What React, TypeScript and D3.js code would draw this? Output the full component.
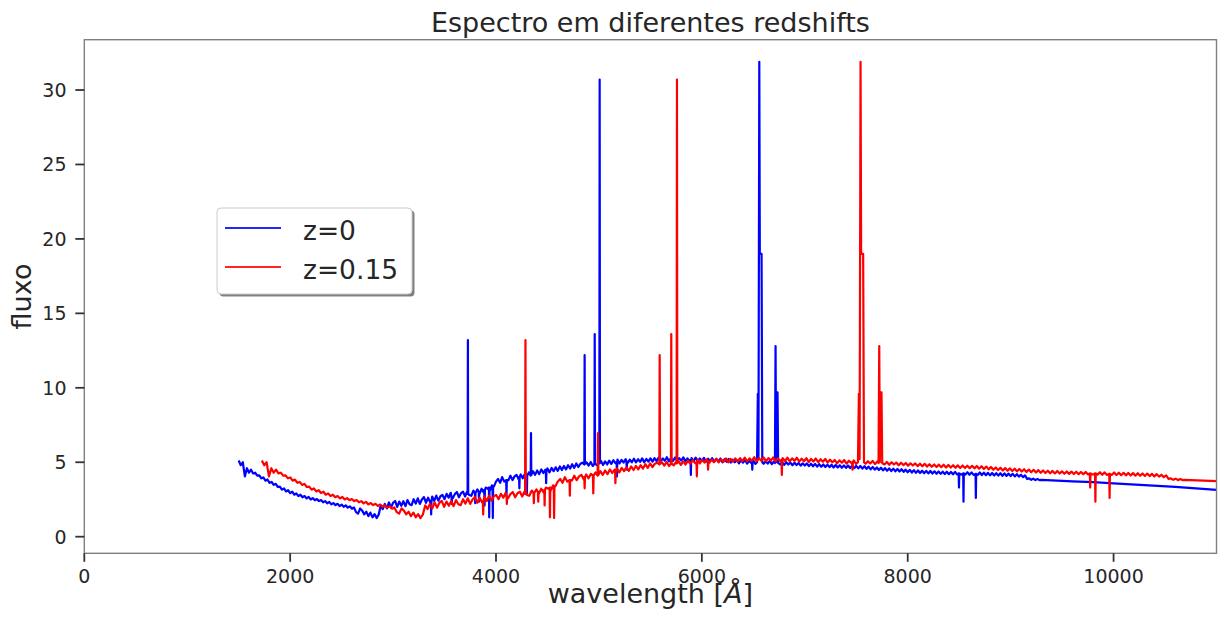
import React from 'react';
import * as d3 from 'd3';

const WIDTH = 1218;
const HEIGHT = 629;

const TITLE = 'Espectro em diferentes redshifts';
const X_LABEL = 'wavelength [';
const X_LABEL_UNIT = 'Å';
const Y_LABEL = 'fluxo';
const X_TICKS = [0, 2000, 4000, 6000, 8000, 10000];
const Y_TICKS = [0, 5, 10, 15, 20, 25, 30];
const X_DOMAIN = [0, 11000];
const Y_DOMAIN = [-1.115, 33.38];

const REDSHIFTS = [0, 0.15];
const SERIES_LABELS = ['z=0', 'z=0.15'];
const SERIES_COLORS = ['#0000ff', '#ff0000'];

// rest-frame continuum, sampled every 20 Å from 1500 Å to 9300 Å
const GRID_START = 1500;
const GRID_STEP = 20;
const CONTINUUM_FLUX = [
  5.12, 4.8, 5.0, 4.05, 4.6, 4.3, 4.5, 4.25, 4.3, 4.1, 4.12, 3.92, 3.98, 3.76, 3.84, 3.62, 3.68, 3.48, 3.55, 3.34,
  3.36, 3.16, 3.24, 3.04, 3.12, 2.93, 3.02, 2.82, 2.91, 2.73, 2.82, 2.65, 2.73, 2.57, 2.67, 2.5, 2.59, 2.45, 2.53, 2.39,
  2.46, 2.31, 2.39, 2.24, 2.34, 2.17, 2.26, 2.12, 2.21, 2.06, 2.16, 2.01, 2.11, 1.95, 2.04, 1.88, 1.96, 1.65, 1.55, 1.9,
  1.75, 1.5, 1.68, 1.38, 1.62, 1.3, 1.52, 1.25, 1.48, 2.1, 1.85, 2.2, 1.9, 2.3, 1.95, 2.28, 2.4, 2.0, 2.36, 2.08,
  2.38, 2.05, 2.46, 2.18, 2.12, 2.52, 2.22, 2.58, 2.2, 2.5, 2.66, 2.28, 2.62, 2.32, 2.7, 2.4, 2.76, 2.42, 2.72, 2.8,
  2.52, 2.88, 2.62, 2.95, 2.58, 2.86, 3.0, 2.65, 2.92, 3.02, 2.7, 3.05, 2.8, 2.75, 3.1, 2.82, 3.18, 2.88, 3.22, 2.98,
  3.3, 3.22, 3.1, 3.45, 3.38, 3.7, 3.88, 3.62, 4.0, 3.7, 4.03, 3.78, 4.1, 3.8, 4.05, 4.15, 3.85, 4.18, 3.92, 4.22,
  4.02, 4.32, 4.1, 4.4, 4.15, 4.45, 4.2, 4.52, 4.28, 4.5, 4.58, 4.32, 4.62, 4.4, 4.66, 4.42, 4.72, 4.48, 4.75, 4.52,
  4.8, 4.58, 4.87, 4.62, 4.92, 4.68, 4.9, 4.97, 4.7, 4.99, 4.78, 5.02, 4.75, 5.05, 4.8, 5.02, 5.08, 4.82, 5.06, 4.85,
  5.11, 4.89, 5.14, 4.94, 5.18, 4.92, 5.16, 4.98, 5.21, 4.96, 5.18, 5.0, 5.24, 4.99, 5.2, 5.02, 5.26, 5.0, 5.22, 5.04,
  5.26, 5.04, 5.28, 5.08, 5.31, 5.06, 5.26, 5.1, 5.34, 5.06, 5.28, 5.09, 5.32, 5.08, 5.28, 5.11, 5.33, 5.06, 5.26, 5.09,
  5.28, 5.08, 5.31, 5.06, 5.26, 5.1, 5.3, 5.04, 5.24, 5.07, 5.28, 5.02, 5.22, 5.05, 5.25, 5.0, 5.2, 5.03, 5.22, 4.98,
  5.17, 5.0, 5.15, 4.93, 5.13, 4.97, 5.15, 4.91, 5.1, 4.95, 5.12, 4.89, 5.08, 4.93, 5.1, 4.9, 5.07, 4.91, 5.09, 4.88,
  5.05, 4.89, 5.03, 4.85, 5.02, 4.83, 5.0, 4.85, 4.98, 4.8, 4.97, 4.81, 4.95, 4.77, 4.93, 4.78, 4.92, 4.74, 4.9, 4.73,
  4.89, 4.71, 4.87, 4.7, 4.85, 4.68, 4.84, 4.67, 4.83, 4.65, 4.82, 4.65, 4.8, 4.63, 4.79, 4.62, 4.78, 4.61, 4.77, 4.6,
  4.76, 4.59, 4.75, 4.57, 4.73, 4.55, 4.71, 4.52, 4.68, 4.5, 4.65, 4.48, 4.63, 4.45, 4.61, 4.43, 4.59, 4.41, 4.57, 4.39,
  4.55, 4.38, 4.53, 4.35, 4.51, 4.33, 4.49, 4.31, 4.47, 4.29, 4.45, 4.28, 4.43, 4.26, 4.42, 4.25, 4.41, 4.24, 4.39, 4.23,
  4.38, 4.22, 4.37, 4.21, 4.36, 4.2, 4.35, 4.19, 4.35, 4.18, 4.34, 4.17, 4.33, 4.17, 4.33, 4.16, 4.32, 4.15, 4.31, 4.15,
  4.31, 4.14, 4.3, 4.13, 4.29, 4.12, 4.28, 4.11, 4.27, 4.1, 4.26, 4.09, 4.25, 4.08, 4.24, 4.07, 4.22, 4.05, 4.2, 4.04,
  4.16, 4.0, 4.12, 3.88, 3.92, 3.82, 3.9, 3.8, 3.87, 3.8, 3.81,
];

// smooth red end of the rest-frame spectrum [wavelength, flux]
const TAIL = [
  [9400, 3.78], [9600, 3.72], [9800, 3.66], [10000, 3.58], [10300, 3.47],
  [10600, 3.35], [11000, 3.14], [11400, 2.98],
];

// emission lines (rest frame) as [wavelength, flux] profiles
const EMISSION_LINES = [
  [[3724, 2.88], [3727, 13.2], [3730, 2.9]],
  [[4337, 4.1], [4340, 6.96], [4343, 4.15]],
  [[4858, 4.85], [4861, 12.2], [4864, 4.88]],
  [[4956, 4.9], [4959, 13.6], [4962, 4.9]],
  [[5004, 4.92], [5007, 30.7], [5010, 4.95]],
  [[6536, 5.0], [6544, 9.6], [6550, 5.2], [6558, 31.9], [6563, 19.0], [6580, 19.0], [6587, 5.0]],
  [[6710, 4.95], [6716, 12.8], [6721, 5.0], [6727, 9.7], [6735, 9.7], [6741, 4.95]],
];

// absorption lines (rest frame)
const ABSORPTION_LINES = [
  [[3367, 2.4], [3370, 1.5], [3373, 2.4]],
  [[3567, 2.7], [3570, 2.2], [3573, 2.7]],
  [[3795, 2.95], [3798, 2.25], [3801, 2.95]],
  [[3832, 3.0], [3835, 2.35], [3838, 3.0]],
  [[3886, 3.15], [3889, 2.1], [3892, 3.15]],
  [[3931, 3.3], [3934, 1.3], [3937, 3.3]],
  [[3966, 3.4], [3969, 1.25], [3972, 3.4]],
  [[4099, 3.8], [4102, 2.75], [4105, 3.8]],
  [[4224, 4.0], [4227, 3.25], [4230, 4.0]],
  [[4297, 4.1], [4300, 2.9], [4303, 4.1]],
  [[4484, 4.4], [4487, 3.6], [4490, 4.4]],
  [[5172, 5.0], [5175, 4.05], [5178, 5.0]],
  [[5267, 5.05], [5270, 4.5], [5273, 5.05]],
  [[5890, 5.15], [5893, 4.15], [5896, 5.15]],
  [[6487, 5.0], [6490, 4.5], [6493, 5.0]],
  [[8495, 4.25], [8498, 3.3], [8501, 4.25]],
  [[8539, 4.25], [8542, 2.35], [8545, 4.25]],
  [[8659, 4.22], [8662, 2.6], [8665, 4.22]],
];

const FONT = '"DejaVu Sans", "Liberation Sans", sans-serif';
const TEXT = '#262626';

function restSpectrum(): [number, number][] {
  const features = [...EMISSION_LINES, ...ABSORPTION_LINES];
  const grid = CONTINUUM_FLUX.map((f, i) => [GRID_START + i * GRID_STEP, f] as [number, number]);
  const kept = grid.filter(([w]) => !features.some(ft => w >= ft[0][0] && w <= ft[ft.length - 1][0]));
  const all = [...kept, ...(features.flat() as [number, number][]), ...(TAIL as [number, number][])];
  return all.sort((a, b) => a[0] - b[0]);
}

export default function App() {
  const left = 84.3, right = 1216.5, top = 39.7, bottom = 553.3;
  const x = d3.scaleLinear().domain(X_DOMAIN).range([left, right]);
  const y = d3.scaleLinear().domain(Y_DOMAIN).range([bottom, top]);
  const rest = restSpectrum();
  const line = d3.line<[number, number]>().x(d => x(d[0])).y(d => y(d[1]));
  const series = REDSHIFTS.map(z => rest.map(([w, f]) => [w * (1 + z), f] as [number, number]));

  const legX = 217, legY = 208, legW = 195, legH = 86;

  return (
    <div style={{ position: 'absolute', left: 0, top: 0 }}>
      <svg width={WIDTH} height={HEIGHT} style={{ display: 'block', background: '#fff' }} fontFamily={FONT}>
        <defs>
          <clipPath id="plotclip">
            <rect x={left} y={top} width={right - left} height={bottom - top} />
          </clipPath>
        </defs>
        <rect x={0} y={0} width={WIDTH} height={HEIGHT} fill="#fff" />
        <g clipPath="url(#plotclip)">
          {series.map((s, i) => (
            <path key={i} d={line(s) || ''} fill="none" stroke={SERIES_COLORS[i]} strokeWidth={2.2} strokeLinejoin="round" />
          ))}
        </g>
        {/* spines */}
        <rect x={left} y={top} width={right - left} height={bottom - top} fill="none" stroke="#7f7f7f" strokeWidth={1.4} />
        {/* x ticks */}
        {X_TICKS.map(t => (
          <g key={'x' + t}>
            <line x1={x(t)} x2={x(t)} y1={bottom} y2={bottom + 8.5} stroke="#333" strokeWidth={1.8} />
            <text x={x(t)} y={583} textAnchor="middle" fontSize={19} fill={TEXT}>{t}</text>
          </g>
        ))}
        {/* y ticks */}
        {Y_TICKS.map(t => (
          <g key={'y' + t}>
            <line x1={left - 9} x2={left} y1={y(t)} y2={y(t)} stroke="#333" strokeWidth={1.8} />
            <text x={66.5} y={y(t)} textAnchor="end" dominantBaseline="central" fontSize={19} fill={TEXT}>{t}</text>
          </g>
        ))}
        {/* title */}
        <text x={(left + right) / 2} y={32} textAnchor="middle" fontSize={27} fill={TEXT}>{TITLE}</text>
        {/* x label */}
        <text x={(left + right) / 2} y={603} textAnchor="middle" fontSize={27} fill={TEXT}>
          {X_LABEL}<tspan fontStyle="italic">{X_LABEL_UNIT}</tspan>]
        </text>
        {/* y label */}
        <text transform={`translate(31,${(top + bottom) / 2}) rotate(-90)`} textAnchor="middle" fontSize={27} fill={TEXT}>{Y_LABEL}</text>
        {/* legend */}
        <rect x={legX + 2.5} y={legY + 2.5} width={legW} height={legH} rx={4} fill="#000" opacity={0.5} />
        <rect x={legX} y={legY} width={legW} height={legH} rx={4} fill="#fff" stroke="#cccccc" strokeWidth={1} />
        {SERIES_LABELS.map((lab, i) => (
          <g key={lab}>
            <line x1={225} x2={281} y1={228 + i * 39} y2={228 + i * 39} stroke={SERIES_COLORS[i]} strokeWidth={2} opacity={0.85} />
            <text x={303} y={239.5 + i * 39} fontSize={26.5} fill={TEXT}>{lab}</text>
          </g>
        ))}
      </svg>
    </div>
  );
}
